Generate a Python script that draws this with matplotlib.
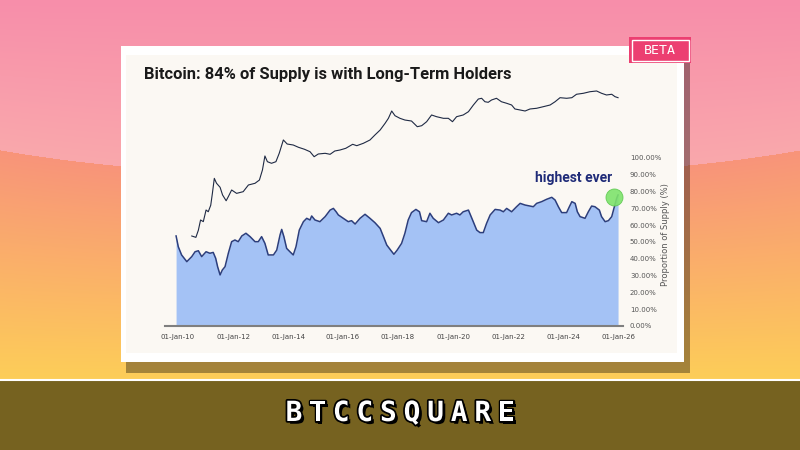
import matplotlib
matplotlib.use("Agg")
import matplotlib.pyplot as plt
import matplotlib.patheffects as pe
from matplotlib.patches import Rectangle
import numpy as np

# share of BTC supply held by long-term holders (%)
lth_years = [
    2009.93, 2010.01, 2010.13, 2010.32, 2010.50, 2010.62, 2010.74, 2010.86,
    2011.02, 2011.16, 2011.28, 2011.37, 2011.44, 2011.53, 2011.61, 2011.71,
    2011.83, 2011.95, 2012.07, 2012.19, 2012.32, 2012.47, 2012.62, 2012.80,
    2012.92, 2013.04, 2013.16, 2013.28, 2013.47, 2013.59, 2013.71, 2013.77,
    2013.85, 2013.95, 2014.07, 2014.19, 2014.29, 2014.41, 2014.56, 2014.68,
    2014.80, 2014.86, 2014.98, 2015.16, 2015.35, 2015.53, 2015.65, 2015.75,
    2015.83, 2016.01, 2016.19, 2016.31, 2016.44, 2016.62, 2016.80, 2016.98,
    2017.16, 2017.35, 2017.47, 2017.59, 2017.73, 2017.85, 2017.97, 2018.13,
    2018.25, 2018.37, 2018.49, 2018.65, 2018.78, 2018.86, 2019.04, 2019.16,
    2019.28, 2019.47, 2019.65, 2019.83, 2019.95, 2020.13, 2020.25, 2020.37,
    2020.56, 2020.71, 2020.86, 2020.98, 2021.10, 2021.22, 2021.35, 2021.53,
    2021.71, 2021.83, 2021.95, 2022.13, 2022.31, 2022.44, 2022.62, 2022.80,
    2022.92, 2023.04, 2023.22, 2023.40, 2023.59, 2023.71, 2023.83, 2023.95,
    2024.13, 2024.23, 2024.32, 2024.44, 2024.52, 2024.62, 2024.80, 2024.92,
    2025.04, 2025.16, 2025.32, 2025.40, 2025.53, 2025.65, 2025.77, 2025.85,
    2025.95, 2026.00,
]
lth_share = [
    53.6, 47.2, 42.3, 38.3, 41.3, 44.2, 44.8, 41.3,
    44.2, 43.3, 43.8, 40.3, 35.3, 30.4, 33.3, 35.3,
    43.3, 50.2, 51.2, 50.2, 53.6, 55.2, 53.2, 50.2,
    50.2, 53.2, 49.2, 42.3, 42.3, 45.2, 54.2, 57.5,
    53.2, 46.2, 44.2, 42.3, 47.2, 57.1, 62.1, 64.1,
    63.1, 65.5, 63.1, 62.1, 65.1, 69.0, 70.0, 68.0,
    66.1, 64.1, 62.1, 62.7, 60.7, 64.1, 66.5, 64.1,
    61.5, 58.1, 53.2, 48.2, 45.2, 42.7, 45.2, 49.2,
    55.2, 63.1, 67.5, 69.4, 68.0, 62.7, 62.1, 67.1,
    64.1, 61.5, 63.1, 67.1, 66.1, 67.1, 66.1, 68.0,
    69.0, 63.1, 57.1, 55.6, 55.6, 61.1, 66.1, 69.4,
    69.0, 68.0, 70.0, 68.0, 71.0, 73.0, 72.0, 71.4,
    71.0, 73.0, 74.0, 75.4, 76.6, 75.0, 71.0, 67.5,
    67.5, 71.0, 74.0, 73.0, 68.0, 65.1, 64.1, 68.0,
    71.4, 71.0, 69.0, 65.1, 62.1, 62.7, 65.1, 70.0,
    76.0, 78.0,
]

# price line drawn on a hidden log axis (USD, estimated from line height)
price_years = [
    2010.50, 2010.65, 2010.74, 2010.82, 2010.92, 2011.02, 2011.10, 2011.19,
    2011.25, 2011.32, 2011.40, 2011.53, 2011.62, 2011.75, 2011.83, 2011.95,
    2012.13, 2012.37, 2012.56, 2012.80, 2012.96, 2013.07, 2013.16, 2013.25,
    2013.40, 2013.56, 2013.68, 2013.83, 2013.97, 2014.19, 2014.38, 2014.60,
    2014.80, 2014.95, 2015.10, 2015.35, 2015.53, 2015.70, 2015.89, 2016.10,
    2016.35, 2016.50, 2016.74, 2016.98, 2017.16, 2017.35, 2017.53, 2017.65,
    2017.77, 2017.89, 2018.07, 2018.25, 2018.49, 2018.70, 2018.86, 2019.04,
    2019.22, 2019.40, 2019.65, 2019.83, 2019.98, 2020.13, 2020.37, 2020.56,
    2020.74, 2020.92, 2021.04, 2021.16, 2021.28, 2021.40, 2021.58, 2021.76,
    2021.95, 2022.13, 2022.25, 2022.44, 2022.62, 2022.80, 2023.04, 2023.28,
    2023.53, 2023.71, 2023.89, 2024.13, 2024.32, 2024.49, 2024.74, 2024.98,
    2025.22, 2025.40, 2025.58, 2025.77, 2025.89, 2026.00,
]
price_usd = [
    0.06, 0.052, 0.11, 0.32, 0.27, 0.91, 0.76, 1.5,
    5.2, 25, 15, 9.8, 4.4, 2.4, 3.7, 7.4,
    5.2, 6.2, 12.5, 14.9, 21, 60, 260, 143,
    121, 143, 344, 1390, 910, 820, 645, 524,
    407, 241, 320, 344, 310, 438, 486, 581,
    883, 764, 982, 1387, 2339, 3945, 7960, 13400,
    28800, 17600, 13400, 11200, 10100, 5570, 6190, 9400,
    19000, 15900, 13400, 13400, 9400, 15900, 19000, 26800,
    54000, 101000, 109000, 76000, 71600, 91200, 109000, 76000,
    64600, 54000, 35600, 32000, 28800, 35600, 38300, 45200,
    54000, 76000, 116000, 109000, 116000, 166000, 184000, 217000,
    234000, 184000, 154000, 166000, 129000, 116000,
]

x_ticks = [2010, 2012, 2014, 2016, 2018, 2020, 2022, 2024, 2026]
x_tick_labels = ["01-Jan-10", "01-Jan-12", "01-Jan-14", "01-Jan-16", "01-Jan-18",
                 "01-Jan-20", "01-Jan-22", "01-Jan-24", "01-Jan-26"]
y_ticks = [0, 10, 20, 30, 40, 50, 60, 70, 80, 90, 100]
y_tick_labels = ["0.00%", "10.00%", "20.00%", "30.00%", "40.00%", "50.00%",
                 "60.00%", "70.00%", "80.00%", "90.00%", "100.00%"]

peak_year, peak_share = 2025.85, 77.0
brand = "BTCCSQUARE"

W, H = 800, 450
plt.rcParams["font.family"] = ["Liberation Sans Narrow", "Roboto", "DejaVu Sans"]


def background() -> np.ndarray:
    # pink top with a soft elliptical edge, warm orange-to-yellow below
    yy, xx = np.mgrid[0:H, 0:W].astype(float)
    arc = 100 + 78 * np.sqrt(np.clip(1 - ((xx - 400) / 520) ** 2, 0, 1))
    top_a, top_b = np.array([247, 142, 170]), np.array([250, 168, 172])
    low_a, low_b = np.array([248, 148, 122]), np.array([253, 206, 88])
    t = np.clip(yy / arc, 0, 1)[..., None]
    s = np.clip((yy - arc) / (380 - arc), 0, 1)[..., None]
    upper = top_a + (top_b - top_a) * t
    lower = low_a + (low_b - low_a) * s
    return np.where((yy < arc)[..., None], upper, lower) / 255


fig = plt.figure(figsize=(W / 100, H / 100), dpi=100)

bg = fig.add_axes([0, 0, 1, 1])
bg.imshow(background(), extent=(0, W, H, 0), aspect="auto", zorder=0)
bg.set_xlim(0, W)
bg.set_ylim(H, 0)
bg.axis("off")

# card with shadow
bg.add_patch(Rectangle((126, 57), 564, 316, fc="black", alpha=0.35, lw=0, zorder=1))
bg.add_patch(Rectangle((121, 46), 563, 316, fc="white", lw=0, zorder=2))
bg.add_patch(Rectangle((126, 55), 551, 298, fc="#FBF8F3", lw=0, zorder=3))

# BETA badge
bg.add_patch(Rectangle((629, 37), 62, 26, fc="#EC3F71", lw=0, zorder=4))
bg.add_patch(Rectangle((631.5, 39.5), 57, 21, fill=False, ec="white", lw=1, zorder=5))
bg.text(660, 50.5, "BETA", color="white", fontsize=9.5, family="DejaVu Sans Mono",
        ha="center", va="center", zorder=6)

# bottom bar with brand
bg.add_patch(Rectangle((0, 380), W, 70, fc="#766220", lw=0, zorder=1))
bg.plot([0, W], [379.5, 379.5], color="white", lw=1.5, zorder=2)
for i, ch in enumerate(brand):
    bg.text(294 + i * 23.6, 413, ch, color="white", fontsize=20, fontweight="bold",
            family="DejaVu Sans Mono", ha="center", va="center", zorder=3,
            path_effects=[pe.SimplePatchShadow(offset=(2, -2), shadow_rgbFace="black", alpha=1),
                          pe.withStroke(linewidth=2.5, foreground="black")])

bg.text(144, 75, "Bitcoin: 84% of Supply is with Long-Term Holders", fontsize=11.9,
        fontweight="bold", color="#1A1A1A", ha="left", va="center", zorder=4)

# chart area
ax = fig.add_axes([165 / W, 1 - 326 / H, 458 / W, 240 / H], zorder=5)
ax.set_facecolor("none")
ax.set_xlim(2009.527, 2026.18)
ax.set_ylim(0, 240 / 1.68)
ax.fill_between(lth_years, lth_share, color="#A4C2F5", lw=0, zorder=2)
ax.plot(lth_years, lth_share, color="#2C3E7C", lw=1.1, zorder=3)

ax.scatter([peak_year], [peak_share], s=150, color="#7EE36C", alpha=0.9,
           edgecolor="#5CC84E", lw=0.6, zorder=4)
ax.text(2024.4, 88.1, "highest ever", color="#1F2B78", fontsize=10, fontweight="bold",
        ha="center", va="center", zorder=5)

ax2 = ax.twinx()
ax2.set_yscale("log")
ax2.set_ylim(10 ** -5.313, 10 ** 5.596)
ax2.plot(price_years, price_usd, color="#1F2A44", lw=0.8)
ax2.axis("off")

for side in ("top", "left", "right"):
    ax.spines[side].set_visible(False)
ax.spines["bottom"].set_color("#7F7F7F")
ax.spines["bottom"].set_linewidth(1.5)

ax.set_xticks(x_ticks, x_tick_labels)
ax.yaxis.tick_right()
ax.set_yticks(y_ticks, y_tick_labels)
ax.tick_params(axis="x", length=0, pad=6, labelsize=5, labelcolor="#444444")
ax.tick_params(axis="y", length=0, pad=5, labelsize=5, labelcolor="#555555",
               left=False, labelleft=False, right=True, labelright=True)
for lab in ax.get_xticklabels() + ax.get_yticklabels():
    lab.set_family("DejaVu Sans")
ax.yaxis.set_label_position("right")
ax.set_ylabel("Proportion of Supply (%)", fontsize=6, color="#555555", family="DejaVu Sans")
ax.yaxis.set_label_coords(1 + 38 / 458, (326 - 235) / 240)

fig.savefig("out.png", dpi=100)
